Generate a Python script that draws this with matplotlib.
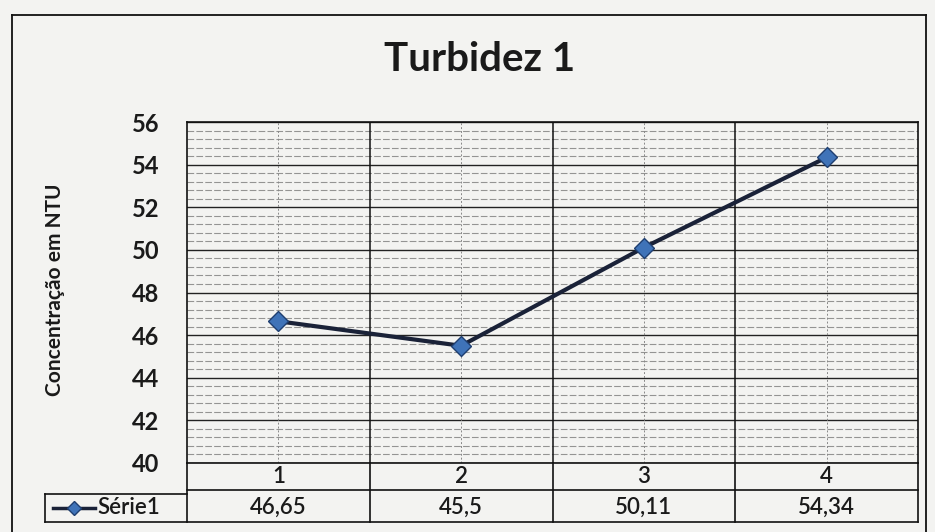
import matplotlib.pyplot as plt
import numpy as np
from matplotlib.lines import Line2D

categories = ['1', '2', '3', '4']
serie1 = [46.65, 45.5, 50.11, 54.34]
value_labels = ['46,65', '45,5', '50,11', '54,34']
yticks = [40, 42, 44, 46, 48, 50, 52, 54, 56]

plt.rcParams['font.family'] = ['Lato', 'DejaVu Sans']

bg = '#f3f3f1'
fig = plt.figure(figsize=(9.35, 5.32), dpi=100, facecolor=bg)
W, H = 935.0, 532.0

# plot area in pixel coords of the reference
left, right, top, bottom = 187, 918, 122, 463
ax = fig.add_axes([left / W, 1 - bottom / H, (right - left) / W, (bottom - top) / H])
ax.set_facecolor(bg)

x = np.arange(len(categories)) + 0.5
ax.set_xlim(0, len(categories))
ax.set_ylim(40, 56)

# grid: major every 2, minor every 0.4
for v in np.arange(40, 56.01, 0.4):
    if abs(v / 2 - round(v / 2)) < 1e-6:
        continue
    ax.axhline(v, color='#555555', lw=0.8, ls=(0, (6, 2)), alpha=0.6, zorder=1)
for v in yticks:
    ax.axhline(v, color='#222222', lw=1.0, zorder=1)
for b in range(1, len(categories)):
    ax.axvline(b, color='#111111', lw=1.1, zorder=1)
for xc in x:
    ax.axvline(xc, color='#888888', lw=0.7, ls=(0, (2, 2)), zorder=1)

ax.plot(x, serie1, color='#1a2238', lw=3, marker='D', markersize=10,
        markerfacecolor='#3f73b8', markeredgecolor='#1f3f70', markeredgewidth=1, zorder=3)

ax.set_yticks(yticks)
ax.set_yticklabels([str(v) for v in yticks], fontsize=17, fontweight='bold', color='#1a1a1a')
ax.set_xticks([])
ax.tick_params(axis='y', length=0, pad=20)
for s in ax.spines.values():
    s.set_color('#111111')
    s.set_linewidth(1.2)

fig.text(55 / W, 1 - 290 / H, 'Concentração em NTU', rotation=90, ha='center', va='center',
         fontsize=15, fontweight='bold', color='#1a1a1a')

fig.text(480 / W, 1 - 60 / H, 'Turbidez 1', ha='center', va='center',
         fontsize=29, fontweight='bold', color='#1a1a1a')

# data table below the plot
aw = right - left
ah = bottom - top
def ay(py):
    return (bottom - py) / ah
def axx(px):
    return (px - left) / aw

row1, row2 = 490, 522
leg_left = 45
kw = dict(transform=ax.transAxes, clip_on=False, color='#111111', lw=1.2)
ax.add_line(Line2D([0, 1], [ay(row1), ay(row1)], **kw))
ax.add_line(Line2D([axx(leg_left), 1], [ay(row2), ay(row2)], **kw))
ax.add_line(Line2D([axx(leg_left), 0], [ay(row1 + 4), ay(row1 + 4)], **kw))
ax.add_line(Line2D([axx(leg_left), axx(leg_left)], [ay(row1 + 4), ay(row2)], **kw))
ax.add_line(Line2D([0, 0], [0, ay(row2)], **kw))
ax.add_line(Line2D([1, 1], [0, ay(row2)], **kw))
for b in range(1, len(categories)):
    xb = b / len(categories)
    ax.add_line(Line2D([xb, xb], [0, ay(row2)], **kw))

for xc, cat, val in zip(x, categories, value_labels):
    xf = xc / len(categories)
    ax.text(xf, ay((bottom + row1) / 2), cat, transform=ax.transAxes, ha='center',
            va='center', fontsize=16, fontweight='semibold', color='#1a1a1a')
    ax.text(xf, ay((row1 + row2) / 2 + 1), val, transform=ax.transAxes, ha='center',
            va='center', fontsize=16, fontweight='semibold', color='#1a1a1a')

# legend key inside the table
ly = ay((row1 + row2) / 2 + 2)
ax.add_line(Line2D([axx(53), axx(95)], [ly, ly], transform=ax.transAxes, clip_on=False,
                   color='#1a2238', lw=2.5))
ax.add_line(Line2D([axx(74)], [ly], transform=ax.transAxes, clip_on=False, marker='D',
                   markersize=7, markerfacecolor='#3f73b8', markeredgecolor='#1f3f70', lw=0))
ax.text(axx(97), ly, 'Série1', transform=ax.transAxes, ha='left', va='center',
        fontsize=16, fontweight='semibold', color='#1a1a1a')

# outer chart border
fkw = dict(transform=fig.transFigure, color='#111111', lw=1.3)
fig.add_artist(Line2D([12 / W, 12 / W], [0, 1 - 15 / H], **fkw))
fig.add_artist(Line2D([12 / W, 926 / W], [1 - 15 / H, 1 - 15 / H], **fkw))
fig.add_artist(Line2D([926 / W, 926 / W], [0, 1 - 15 / H], **fkw))

fig.savefig('out.png', dpi=100, facecolor=bg)
